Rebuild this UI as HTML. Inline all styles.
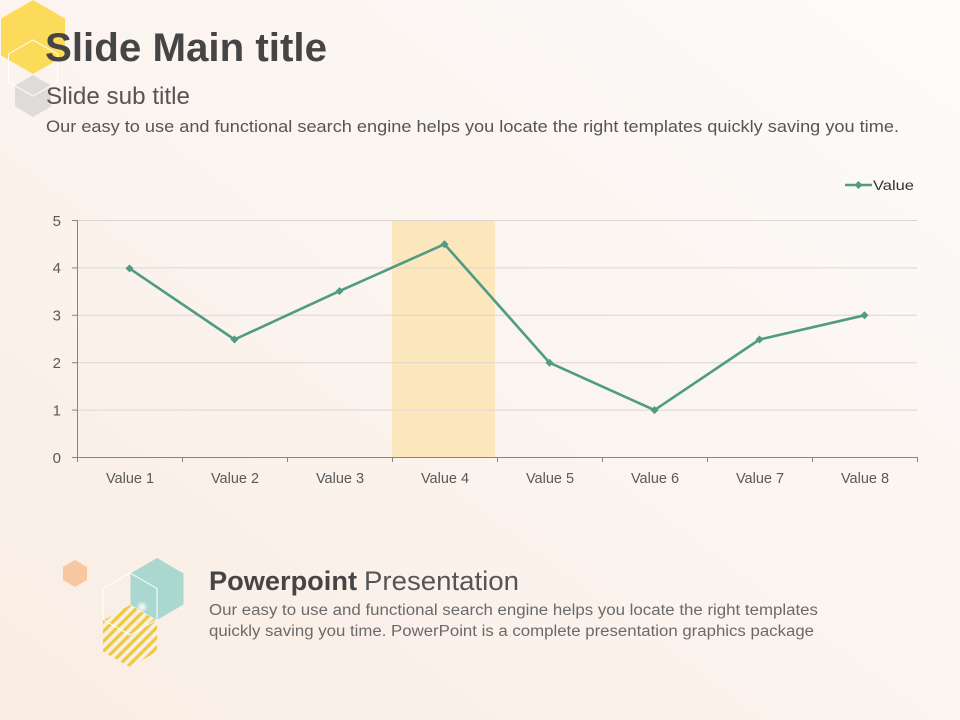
<!DOCTYPE html>
<html>
<head>
<meta charset="utf-8">
<style>
  html,body{margin:0;padding:0;width:960px;height:720px;overflow:hidden;}
  svg{display:block;}
  text{font-family:"Liberation Sans",sans-serif;}
</style>
</head>
<body>
<svg width="960" height="720" viewBox="0 0 960 720" xmlns="http://www.w3.org/2000/svg">
  <defs>
    <linearGradient id="bg" x1="1" y1="0" x2="0" y2="1">
      <stop offset="0" stop-color="#fdfbfa"/>
      <stop offset="0.5" stop-color="#fbf4ef"/>
      <stop offset="1" stop-color="#faede3"/>
    </linearGradient>
    <pattern id="stripes" patternUnits="userSpaceOnUse" width="7" height="7" patternTransform="rotate(45)">
      <rect x="0" y="0" width="3.2" height="7" fill="#f0c83c"/>
    </pattern>
    <clipPath id="hexclip">
      <polygon points="130,605 157,620.5 157,651.5 130,667 103,651.5 103,620.5"/>
    </clipPath>
    <radialGradient id="spark" cx="0.5" cy="0.5" r="0.5">
      <stop offset="0" stop-color="#ffffff" stop-opacity="1"/>
      <stop offset="1" stop-color="#ffffff" stop-opacity="0"/>
    </radialGradient>
  </defs>

  <rect x="0" y="0" width="960" height="720" fill="url(#bg)"/>

  <!-- top-left decor -->
  <polygon points="33,0 65,18.5 65,55.5 33,74 1,55.5 1,18.5" fill="#fcdb5b"/>
  <polygon points="33,75 51,85.5 51,106.5 33,117 15,106.5 15,85.5" fill="#dcd8d5" opacity="0.9"/>
  <polygon points="33,40 57.5,54 57.5,82 33,96 8.5,82 8.5,54" fill="none" stroke="#ffffff" stroke-width="1"/>

  <!-- Titles -->
  <text x="45" y="61" font-size="40" font-weight="bold" fill="#454545" textLength="282" lengthAdjust="spacingAndGlyphs">Slide Main title</text>
  <text x="46" y="104" font-size="24" fill="#555555" textLength="144" lengthAdjust="spacingAndGlyphs">Slide sub title</text>
  <text x="46" y="132" font-size="16.5" fill="#555555" textLength="853" lengthAdjust="spacingAndGlyphs">Our easy to use and functional search engine helps you locate the right templates quickly saving you time.</text>

  <!-- Legend -->
  <line x1="845" y1="185" x2="872" y2="185" stroke="#4f9b84" stroke-width="2.5"/>
  <polygon points="858.5,181 862.5,185 858.5,189 854.5,185" fill="#4f9b84"/>
  <text x="873" y="190" font-size="14" fill="#333333" textLength="41" lengthAdjust="spacingAndGlyphs">Value</text>

  <!-- highlight -->
  <rect x="392" y="220" width="103" height="237" fill="#fbe7bb"/>

  <!-- gridlines -->
  <g stroke="#dcd6d2" stroke-width="1">
    <line x1="77" y1="220.5" x2="917" y2="220.5"/>
    <line x1="77" y1="267.9" x2="917" y2="267.9"/>
    <line x1="77" y1="315.3" x2="917" y2="315.3"/>
    <line x1="77" y1="362.7" x2="917" y2="362.7"/>
    <line x1="77" y1="410.1" x2="917" y2="410.1"/>
  </g>

  <!-- axes -->
  <g stroke="#8a847f" stroke-width="1">
    <line x1="77.5" y1="220" x2="77.5" y2="457.5"/>
    <line x1="72" y1="457.5" x2="917.5" y2="457.5"/>
    <line x1="72" y1="220.5" x2="77" y2="220.5"/>
    <line x1="72" y1="267.9" x2="77" y2="267.9"/>
    <line x1="72" y1="315.3" x2="77" y2="315.3"/>
    <line x1="72" y1="362.7" x2="77" y2="362.7"/>
    <line x1="72" y1="410.1" x2="77" y2="410.1"/>
    <line x1="77.5" y1="457" x2="77.5" y2="462"/>
    <line x1="182.5" y1="457" x2="182.5" y2="462"/>
    <line x1="287.5" y1="457" x2="287.5" y2="462"/>
    <line x1="392.5" y1="457" x2="392.5" y2="462"/>
    <line x1="497.5" y1="457" x2="497.5" y2="462"/>
    <line x1="602.5" y1="457" x2="602.5" y2="462"/>
    <line x1="707.5" y1="457" x2="707.5" y2="462"/>
    <line x1="812.5" y1="457" x2="812.5" y2="462"/>
    <line x1="917.5" y1="457" x2="917.5" y2="462"/>
  </g>

  <!-- y labels -->
  <g font-size="15" fill="#595959" text-anchor="end">
    <text x="61" y="226">5</text>
    <text x="61" y="273">4</text>
    <text x="61" y="320.5">3</text>
    <text x="61" y="368">2</text>
    <text x="61" y="415.5">1</text>
    <text x="61" y="463">0</text>
  </g>

  <!-- x labels -->
  <g font-size="14.5" fill="#595959" text-anchor="middle">
    <text x="130" y="483">Value 1</text>
    <text x="235" y="483">Value 2</text>
    <text x="340" y="483">Value 3</text>
    <text x="445" y="483">Value 4</text>
    <text x="550" y="483">Value 5</text>
    <text x="655" y="483">Value 6</text>
    <text x="760" y="483">Value 7</text>
    <text x="865" y="483">Value 8</text>
  </g>

  <!-- series -->
  <polyline fill="none" stroke="#4f9b84" stroke-width="2.6" stroke-linejoin="round"
    points="129.5,268.4 234.5,339.5 339.5,291.1 444.5,244.2 549.5,362.7 654.5,410.1 759.5,339.5 864.5,315.3"/>
  <g fill="#4f9b84">
    <polygon points="129.5,264.4 133.5,268.4 129.5,272.4 125.5,268.4"/>
    <polygon points="234.5,335.5 238.5,339.5 234.5,343.5 230.5,339.5"/>
    <polygon points="339.5,287.1 343.5,291.1 339.5,295.1 335.5,291.1"/>
    <polygon points="444.5,240.2 448.5,244.2 444.5,248.2 440.5,244.2"/>
    <polygon points="549.5,358.7 553.5,362.7 549.5,366.7 545.5,362.7"/>
    <polygon points="654.5,406.1 658.5,410.1 654.5,414.1 650.5,410.1"/>
    <polygon points="759.5,335.5 763.5,339.5 759.5,343.5 755.5,339.5"/>
    <polygon points="864.5,311.3 868.5,315.3 864.5,319.3 860.5,315.3"/>
  </g>

  <!-- bottom decor -->
  <polygon points="75,560 87,567 87,580 75,587 63,580 63,567" fill="#f8c7a0"/>
  <polygon points="157,558 183.5,573.5 183.5,604.5 157,620 130.5,604.5 130.5,573.5" fill="#aad8cf"/>
  <g clip-path="url(#hexclip)">
    <rect x="100" y="600" width="60" height="70" fill="url(#stripes)"/>
  </g>
  <polygon points="130,573 157,588.5 157,619.5 130,635 103,619.5 103,588.5" fill="none" stroke="#ffffff" stroke-width="1"/>
  <circle cx="142" cy="607" r="6" fill="url(#spark)"/>

  <!-- bottom text -->
  <text x="209" y="590" font-size="27" font-weight="bold" fill="#454545" textLength="148" lengthAdjust="spacingAndGlyphs">Powerpoint</text>
  <text x="364" y="590" font-size="27" fill="#555555" textLength="155" lengthAdjust="spacingAndGlyphs">Presentation</text>
  <text x="209" y="615" font-size="15.5" fill="#6a6a6a" textLength="609" lengthAdjust="spacingAndGlyphs">Our easy to use and functional search engine helps you locate the right templates</text>
  <text x="209" y="636" font-size="15.5" fill="#6a6a6a" textLength="605" lengthAdjust="spacingAndGlyphs">quickly saving you time. PowerPoint is a complete presentation graphics package</text>
</svg>
</body>
</html>
